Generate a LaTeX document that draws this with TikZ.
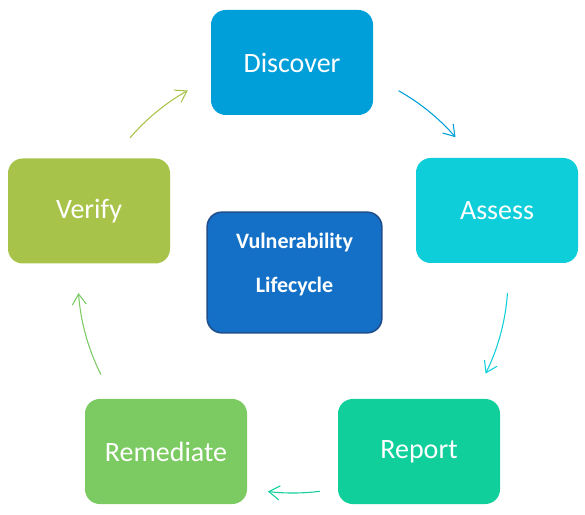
\documentclass[tikz,border=0pt]{standalone}
\usepackage{fontspec}
\setmainfont{Carlito}
\usetikzlibrary{arrows.meta,positioning}

\definecolor{cDisc}{RGB}{0,159,217}
\definecolor{cAssess}{RGB}{14,206,218}
\definecolor{cReport}{RGB}{16,207,155}
\definecolor{cRem}{RGB}{124,202,98}
\definecolor{cVer}{RGB}{168,195,74}
\definecolor{cLife}{RGB}{20,112,198}
\definecolor{cLifeEdge}{RGB}{32,78,140}

\tikzset{
  stagebox/.style={rounded corners=11pt, minimum width=121.5pt, minimum height=78.75pt,
    text=white, font=\fontsize{21}{25}\selectfont, inner sep=0pt},
  hubbox/.style={rounded corners=11pt, minimum width=131pt, minimum height=90.5pt,
    fill=cLife, draw=cLifeEdge, line width=1.2pt, text=white, align=center,
    text depth=14pt, font=\fontsize{16.5}{33}\selectfont\bfseries},
  cycarrow/.style={line width=0.8pt, -{Straight Barb[length=8pt,width=10.5pt]}}
}

\begin{document}
\begin{tikzpicture}[x=0.75pt, y=0.75pt]
  \useasboundingbox (0,0) rectangle (585,514);
  % stages of the cycle
  \node[stagebox, fill=cDisc]   (disc)   at (292,451.5) {Discover};
  \node[stagebox, fill=cAssess] (assess) at (497,303.5) {Assess};
  \node[stagebox, fill=cReport] (report) at (419,62.5)  {Report};
  \node[stagebox, fill=cRem]    (remed)  at (166,62.5)  {Remediate};
  \node[stagebox, fill=cVer]    (verify) at (89,303)    {Verify};
  % centre
  \node[hubbox] (life) at (294.5,241.5) {Vulnerability\\Lifecycle};
  \coordinate (hub) at (293,236);
  % arcs between the stages
  \foreach \a/\b/\col in {60.6/40.9/cDisc, -4/-26.4/cAssess, -82.8/-96.7/cReport,
                          -153.3/-176/cRem, 139.3/119.3/cVer}{
    \draw[cycarrow, \col] (hub) ++(\a:161.25pt) arc[start angle=\a, end angle=\b, radius=161.25pt];
  }
\end{tikzpicture}
\end{document}
